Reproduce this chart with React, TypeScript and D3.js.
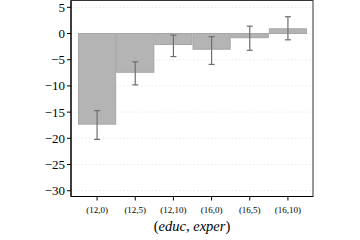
import React from "react";
import * as d3 from "d3";

const categories = ["(12,0)", "(12,5)", "(12,10)", "(16,0)", "(16,5)", "(16,10)"];
const values = [-17.3, -7.4, -2.1, -3.0, -0.8, 0.9];
const errLow = [-20.2, -9.8, -4.4, -5.9, -3.2, -1.2];
const errHigh = [-14.7, -5.4, -0.3, -0.6, 1.4, 3.2];
const yTicks = [5, 0, -5, -10, -15, -20, -25, -30];

export default function App() {
  const W = 360, H = 240;
  const left = 71, right = 313, top = 0.5, bottom = 196.5;
  const y = d3.scaleLinear().domain([-31.1, 6.3]).range([bottom, top]);
  const x = d3.scaleBand<string>().domain(categories).range([78, 307]).padding(0);
  const fmt = (v: number) => (v < 0 ? "\u2212" + Math.abs(v) : String(v));
  const font = "'Liberation Serif', 'DejaVu Serif', serif";
  return (
    <svg width={W} height={H} style={{ position: "absolute", left: 0, top: 0 }} fontFamily={font}>
      <rect x={0} y={0} width={W} height={H} fill="#fff" />
      {yTicks.map((t) => (
        <line key={"g" + t} x1={left} x2={right} y1={y(t)} y2={y(t)} stroke="#e4e4e4" strokeWidth={0.8} strokeDasharray="1.5,2" />
      ))}
      {categories.map((c, i) => {
        const v = values[i];
        return (
          <rect key={c} x={x(c)! + 0.5} width={x.bandwidth() - 1} y={Math.min(y(v), y(0))} height={Math.abs(y(v) - y(0))}
            fill="#b4b4b4" stroke="#a6a6a6" strokeWidth={1} />
        );
      })}
      {categories.map((c, i) => {
        const cx = x(c)! + x.bandwidth() / 2;
        return (
          <g key={"e" + c} stroke="#6e6e6e" strokeWidth={1.2}>
            <line x1={cx} x2={cx} y1={y(errLow[i])} y2={y(errHigh[i])} />
            <line x1={cx - 3} x2={cx + 3} y1={y(errLow[i])} y2={y(errLow[i])} />
            <line x1={cx - 3} x2={cx + 3} y1={y(errHigh[i])} y2={y(errHigh[i])} />
          </g>
        );
      })}
      <rect x={left} y={top} width={right - left} height={bottom - top} fill="none" stroke="#333" strokeWidth={1} />
      <line x1={left} x2={left} y1={top} y2={bottom} stroke="#000" strokeWidth={1.2} />
      <line x1={left} x2={right} y1={bottom} y2={bottom} stroke="#000" strokeWidth={1.2} />
      {yTicks.map((t) => (
        <g key={"t" + t}>
          <line x1={left - 4} x2={left} y1={y(t)} y2={y(t)} stroke="#000" />
          <text x={left - 6} y={y(t)} dy="0.35em" textAnchor="end" fontSize={13} fill="#000">{fmt(t)}</text>
        </g>
      ))}
      {categories.map((c) => {
        const cx = x(c)! + x.bandwidth() / 2;
        return (
          <g key={"x" + c}>
            <line x1={cx} x2={cx} y1={bottom} y2={bottom + 4} stroke="#000" />
            <text x={cx} y={212.5} textAnchor="middle" fontSize={9} fill="#000">{c}</text>
          </g>
        );
      })}
      <text x={(left + right) / 2} y={230.5} textAnchor="middle" fontSize={14.5} fill="#000">
        (<tspan fontStyle="italic">educ</tspan>, <tspan fontStyle="italic">exper</tspan>)
      </text>
    </svg>
  );
}
